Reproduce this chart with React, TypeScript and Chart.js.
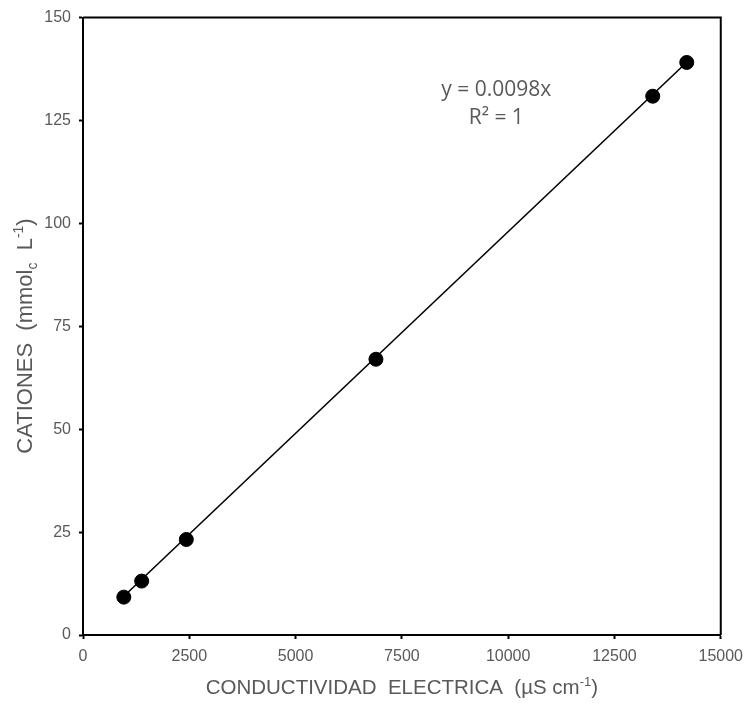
import React, { useEffect, useRef } from "react";
import { Chart, registerables } from "chart.js";

Chart.register(...registerables);

// ---- data ----
const conductivity = [960, 1380, 2430, 6890, 13400, 14200];
const cations = [9.2, 13.1, 23.2, 67.0, 130.9, 139.1];
const trendSlope = 0.0098;
const equationLines = ["y = 0.0098x", "R\u00B2 = 1"];
const equationAnchor = { x: 9720, y: 132.4, lineStep: 6.9 };
const xRange = [0, 15000];
const yRange = [0, 150];
const xStep = 2500;
const yStep = 25;

type Seg = { t: string; sub?: boolean; sup?: boolean };
const xTitle: Seg[] = [
  { t: "CONDUCTIVIDAD  ELECTRICA  (\u00B5S cm" },
  { t: "-1", sup: true },
  { t: ")" },
];
const yTitle: Seg[] = [
  { t: "CATIONES  (mmol" },
  { t: "c", sub: true },
  { t: "  L" },
  { t: "-1", sup: true },
  { t: ")" },
];

const FONT = "'Liberation Sans', Arial, sans-serif";
const GREY = "#595959";

function drawRich(
  ctx: CanvasRenderingContext2D,
  segs: Seg[],
  cx: number,
  baseY: number,
  size: number
) {
  const small = Math.round(size * 0.62);
  let total = 0;
  const widths: number[] = [];
  for (const s of segs) {
    ctx.font = `${s.sub || s.sup ? small : size}px ${FONT}`;
    const w = ctx.measureText(s.t).width;
    widths.push(w);
    total += w;
  }
  let x = cx - total / 2;
  ctx.textAlign = "left";
  ctx.textBaseline = "alphabetic";
  ctx.fillStyle = GREY;
  segs.forEach((s, i) => {
    ctx.font = `${s.sub || s.sup ? small : size}px ${FONT}`;
    const dy = s.sub ? size * 0.22 : s.sup ? -size * 0.4 : 0;
    ctx.fillText(s.t, x, baseY + dy);
    x += widths[i];
  });
}

const decorPlugin = {
  id: "decor",
  afterDraw(chart: any) {
    const ctx: CanvasRenderingContext2D = chart.ctx;
    const { left, right, top, bottom } = chart.chartArea;
    ctx.save();
    // frame top & right
    ctx.strokeStyle = "#000";
    ctx.lineWidth = 2;
    ctx.beginPath();
    ctx.moveTo(left, top);
    ctx.lineTo(right, top);
    ctx.lineTo(right, bottom);
    ctx.stroke();

    // axis titles
    drawRich(ctx, xTitle, (left + right) / 2, 694, 20.5);
    ctx.save();
    ctx.translate(32, 336);
    ctx.rotate(-Math.PI / 2);
    drawRich(ctx, yTitle, 0, 0, 22);
    ctx.restore();

    // equation
    const xs = chart.scales.x;
    const ys = chart.scales.y;
    ctx.fillStyle = GREY;
    ctx.font = `21px 'Open Sans', 'Noto Sans', sans-serif`;
    ctx.textAlign = "center";
    ctx.textBaseline = "middle";
    equationLines.forEach((line, i) => {
      ctx.fillText(
        line,
        xs.getPixelForValue(equationAnchor.x),
        ys.getPixelForValue(equationAnchor.y - i * equationAnchor.lineStep)
      );
    });
    ctx.restore();
  },
};

export default function App() {
  const ref = useRef<HTMLCanvasElement | null>(null);
  useEffect(() => {
    if (!ref.current) return;
    const xMin = Math.min(...conductivity);
    const xMax = Math.max(...conductivity);
    const chart = new Chart(ref.current, {
      type: "scatter",
      data: {
        datasets: [
          {
            label: "datos",
            data: conductivity.map((x, i) => ({ x, y: cations[i] })),
            backgroundColor: "#000",
            borderColor: "#000",
            pointRadius: 7,
            pointHoverRadius: 7,
            order: 0,
          },
          {
            label: "tendencia",
            type: "line",
            data: [
              { x: xMin, y: trendSlope * xMin },
              { x: xMax, y: trendSlope * xMax },
            ],
            borderColor: "#000",
            borderWidth: 1.6,
            pointRadius: 0,
            fill: false,
            order: 1,
          } as any,
        ],
      },
      options: {
        responsive: false,
        animation: false,
        layout: { padding: { top: 13, right: 29, left: 0, bottom: 0 } },
        plugins: {
          legend: { display: false },
          tooltip: { enabled: false },
          title: { display: false },
        },
        scales: {
          x: {
            type: "linear",
            min: xRange[0],
            max: xRange[1],
            afterFit: (s: any) => {
              s.height = 69;
            },
            ticks: {
              stepSize: xStep,
              color: GREY,
              font: { family: FONT, size: 16 },
              padding: 8,
              maxRotation: 0,
              callback: (v: any) => String(v),
            },
            grid: {
              display: true,
              drawOnChartArea: false,
              drawTicks: true,
              tickLength: 4,
              tickColor: "#000",
              tickWidth: 2,
            },
            border: { display: true, color: "#000", width: 2 },
          },
          y: {
            type: "linear",
            min: yRange[0],
            max: yRange[1],
            afterFit: (s: any) => {
              s.width = 83;
            },
            ticks: {
              stepSize: yStep,
              color: GREY,
              font: { family: FONT, size: 16 },
              padding: 8,
              callback: (v: any) => String(v),
            },
            grid: {
              display: true,
              drawOnChartArea: false,
              drawTicks: true,
              tickLength: 4,
              tickColor: "#000",
              tickWidth: 2,
            },
            border: { display: true, color: "#000", width: 2 },
          },
        },
      },
      plugins: [decorPlugin],
    });
    return () => chart.destroy();
  }, []);
  return (
    <div style={{ position: "absolute", left: 0, top: 0, width: 751, height: 704 }}>
      <canvas ref={ref} width={751} height={704} style={{ display: "block" }} />
    </div>
  );
}
